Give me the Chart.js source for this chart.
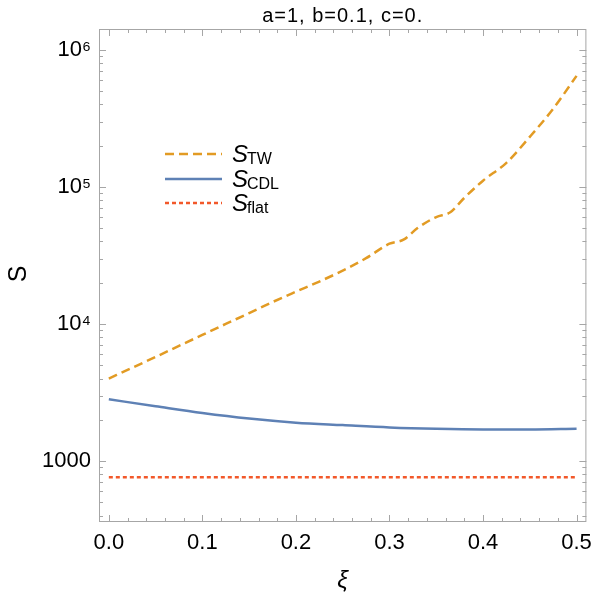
<!DOCTYPE html>
<html>
<head>
<meta charset="utf-8">
<script src="https://cdn.jsdelivr.net/npm/chart.js@4.4.0/dist/chart.umd.min.js"></script>
<style>
  html, body { margin: 0; padding: 0; background: #fff; }
  #wrap { width: 600px; height: 603px; }
</style>
</head>
<body>
<div id="wrap"><canvas id="myChart" width="600" height="603"></canvas></div>
<script>
// xi values and curves
const xiTW = [0, 0.025, 0.05, 0.075, 0.1, 0.125, 0.15, 0.175, 0.2, 0.225, 0.25, 0.275,
  0.3, 0.315, 0.33, 0.35, 0.365, 0.38, 0.4, 0.425, 0.45, 0.475, 0.5];
const sTW = [4000, 4790, 5750, 6920, 8320, 10000, 12000, 14450, 17200, 20400, 24500, 30200,
  38500, 41200, 50100, 60300, 65300, 83200, 111000, 150000, 232000, 372000, 646000];

const xiCDL = [0, 0.05, 0.1, 0.15, 0.2, 0.25, 0.3, 0.35, 0.4, 0.45, 0.5];
const sCDL = [2820, 2510, 2240, 2040, 1905, 1828, 1758, 1718, 1700, 1700, 1722];

const xiFlat = [0, 0.5];
const sFlat = [760, 760];

const subs = ["TW", "CDL", "flat"];
const colors = ["#E29B24", "#5E81B5", "#F2582A"];
const yTicks = [1000, 10000, 100000, 1000000];
const yTickLabels = ["1000", "10\u2074", "10\u2075", "10\u2076"];
const xTicks = [0, 0.1, 0.2, 0.3, 0.4, 0.5];

const FONT = "'Liberation Sans', Arial, sans-serif";
const toPts = (xs, ys) => xs.map((x, i) => ({ x: x, y: ys[i] }));

// frame, inward ticks, title, axis labels, legend
const decor = {
  id: "decor",
  afterDraw(c) {
    const ctx = c.ctx, a = c.chartArea, sx = c.scales.x, sy = c.scales.y;
    ctx.save();
    ctx.strokeStyle = "#a6a6a6";
    ctx.lineWidth = 1;
    ctx.strokeRect(a.left + 0.5, a.top + 0.5, a.right - a.left - 1, a.bottom - a.top - 1);
    ctx.beginPath();
    for (let i = 0; i <= 26; i++) {
      const v = -0.02 + i * 0.02;
      if (v < sx.min || v > sx.max) continue;
      const px = Math.round(sx.getPixelForValue(v)) + 0.5;
      const len = (Math.round(v * 100) % 10 === 0) ? 7 : 4;
      ctx.moveTo(px, a.bottom); ctx.lineTo(px, a.bottom - len);
      ctx.moveTo(px, a.top); ctx.lineTo(px, a.top + len);
    }
    for (let e = 2; e <= 6; e++) {
      for (let m = 1; m <= 9; m++) {
        const v = m * Math.pow(10, e);
        if (v < sy.min || v > sy.max) continue;
        const py = Math.round(sy.getPixelForValue(v)) + 0.5;
        const len = m === 1 ? 7 : 4;
        ctx.moveTo(a.left, py); ctx.lineTo(a.left + len, py);
        ctx.moveTo(a.right, py); ctx.lineTo(a.right - len, py);
      }
    }
    ctx.stroke();

    ctx.fillStyle = "#000";
    ctx.textAlign = "center";
    ctx.textBaseline = "alphabetic";
    ctx.font = "20px " + FONT;
    ctx.letterSpacing = "1px";
    ctx.fillText("a=1, b=0.1, c=0.", (a.left + a.right) / 2, 22);
    ctx.letterSpacing = "0px";

    ctx.font = "italic 24px " + FONT;
    ctx.fillText("\u03be", (a.left + a.right) / 2, 588);
    ctx.save();
    ctx.translate(26, 274);
    ctx.rotate(-Math.PI / 2);
    ctx.font = "25px " + FONT;
    ctx.fillText("S", 0, 0);
    ctx.restore();

    // legend
    const rows = [154, 179, 203];
    c.data.datasets.forEach((ds, i) => {
      const y = rows[i];
      ctx.strokeStyle = ds.borderColor;
      ctx.lineWidth = ds.borderWidth;
      ctx.setLineDash(ds.borderDash || []);
      ctx.beginPath();
      ctx.moveTo(165, y); ctx.lineTo(222, y);
      ctx.stroke();
      ctx.setLineDash([]);
      ctx.textAlign = "left";
      ctx.fillStyle = "#000";
      ctx.font = "italic 24px " + FONT;
      ctx.fillText("S", 232, y + 8);
      ctx.font = "16px " + FONT;
      ctx.fillText(subs[i], 247, y + 10);
    });
    ctx.restore();
  }
};

new Chart(document.getElementById("myChart"), {
  type: "line",
  data: {
    datasets: [
      { label: "S_TW", data: toPts(xiTW, sTW), borderColor: colors[0], borderWidth: 2.5,
        borderDash: [9, 5], pointRadius: 0, cubicInterpolationMode: "monotone", fill: false },
      { label: "S_CDL", data: toPts(xiCDL, sCDL), borderColor: colors[1], borderWidth: 2.5,
        pointRadius: 0, cubicInterpolationMode: "monotone", fill: false },
      { label: "S_flat", data: toPts(xiFlat, sFlat), borderColor: colors[2], borderWidth: 2.5,
        borderDash: [4, 3], pointRadius: 0, fill: false }
    ]
  },
  options: {
    responsive: false,
    animation: false,
    layout: { padding: { top: 29, right: 7, left: 0, bottom: 0 } },
    plugins: { legend: { display: false }, tooltip: { enabled: false } },
    scales: {
      x: {
        type: "linear",
        min: -0.0105,
        max: 0.5105,
        grid: { display: false, drawTicks: false },
        border: { display: false },
        afterBuildTicks: s => { s.ticks = xTicks.map(v => ({ value: v })); },
        afterFit: s => { s.height = 81; },
        ticks: {
          padding: 8,
          color: "#000",
          font: { family: FONT, size: 22 },
          callback: v => v.toFixed(1)
        }
      },
      y: {
        type: "logarithmic",
        min: 359,
        max: 1420000,
        grid: { display: false, drawTicks: false },
        border: { display: false },
        afterBuildTicks: s => { s.ticks = yTicks.map(v => ({ value: v })); },
        afterFit: s => { s.width = 99; },
        ticks: {
          padding: 8,
          color: "#000",
          font: { family: FONT, size: 22 },
          callback: v => yTickLabels[yTicks.indexOf(v)]
        }
      }
    }
  },
  plugins: [decor]
});
</script>
</body>
</html>
